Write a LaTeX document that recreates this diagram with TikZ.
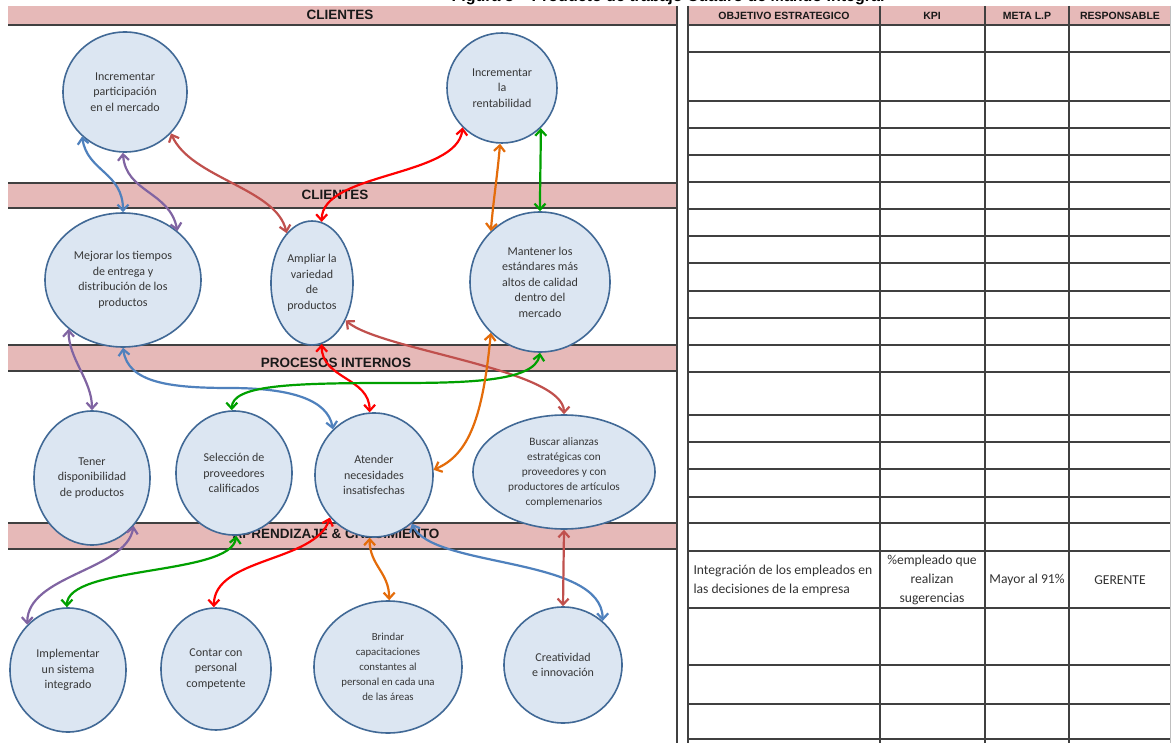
\documentclass[tikz,border=0pt]{standalone}
\usepackage{fontspec}
\setmainfont{Carlito}
\newfontfamily\headfont{Liberation Sans}
\usetikzlibrary{shapes.geometric,arrows.meta}
\definecolor{bandpink}{RGB}{230,185,184}
\definecolor{rulegray}{RGB}{64,64,64}
\definecolor{ovalfill}{RGB}{220,230,242}
\definecolor{ovaldraw}{RGB}{65,105,150}
\definecolor{ovaltext}{RGB}{55,55,55}
\definecolor{cblue}{RGB}{79,129,189}
\definecolor{cpurple}{RGB}{128,100,162}
\definecolor{cbrown}{RGB}{192,80,77}
\definecolor{cred}{RGB}{255,0,0}
\definecolor{corange}{RGB}{228,108,10}
\definecolor{cgreen}{RGB}{0,160,0}
\begin{document}
\begin{tikzpicture}[x=1pt,y=-1pt,
  oval/.style={ellipse, draw=ovaldraw, fill=ovalfill, line width=1.6pt,
    inner sep=0pt, align=center, text=ovaltext,
    font=\fontsize{12}{15.5}\selectfont},
  link/.style={line width=2.2pt,
    {Straight Barb[length=6pt,width=11pt]}-{Straight Barb[length=6pt,width=11pt]}},
  bandrule/.style={draw=rulegray, line width=1.8pt},
  bandtitle/.style={font=\headfont\bfseries\fontsize{13.5}{16}\selectfont, text=black!90},
  headtitle/.style={font=\headfont\bfseries\fontsize{10.5}{12}\selectfont, text=black!90},
  cell/.style={font=\fontsize{13.6}{19}\selectfont, text=black!80, align=center},
  tline/.style={draw=rulegray, line width=1.2pt},
  tthick/.style={draw=rulegray, line width=2pt}
]
\useasboundingbox (0,0) rectangle (1175,743);
\fill[white] (0,0) rectangle (1175,743);

% caption, cut by the page edge
\node[anchor=base, font=\headfont\bfseries\fontsize{16}{18}\selectfont, inner sep=0pt]
  (caption) at (668,2) {Figura 3 – Producto de trabajo Cuadro de Mando Integral};

% ---------- perspective bands ----------
\fill[bandpink] (8,6) rectangle (677,25);
\draw[bandrule] (8,25) -- (677,25);
\node[bandtitle] (b1) at (340,15) {CLIENTES};

\fill[bandpink] (8,183) rectangle (677,208);
\draw[bandrule] (8,183) -- (677,183) (8,208) -- (677,208);
\node[bandtitle] (b2) at (335,195) {CLIENTES};

\fill[bandpink] (8,345) rectangle (677,371);
\draw[bandrule] (8,345) -- (677,345) (8,371) -- (677,371);
\node[bandtitle] (b3) at (336,363) {PROCESOS INTERNOS};

\fill[bandpink] (8,523) rectangle (677,549);
\draw[bandrule] (8,523) -- (677,523) (8,549) -- (677,549);
\node[bandtitle] (b4) at (336,534) {APRENDIZAJE \& CRECIMIENTO};

\draw[draw=rulegray, line width=1.2pt] (677,6) -- (677,743);

% ---------- objectives ----------
\node[oval, minimum width=124, minimum height=120] (c1) at (125,92)
  {Incrementar\\participación\\en el mercado};
\node[oval, minimum width=110, minimum height=110] (c2) at (502,88)
  {Incrementar\\la\\rentabilidad};
\node[oval, minimum width=156, minimum height=134] (c3) at (123,280)
  {Mejorar los tiempos\\de entrega y\\distribución de los\\productos};
\node[oval, minimum width=82, minimum height=124] (c4) at (312,283)
  {Ampliar la\\variedad\\de\\productos};
\node[oval, minimum width=140, minimum height=140] (c5) at (540,282)
  {Mantener los\\estándares más\\altos de calidad\\dentro del\\mercado};
\node[oval, minimum width=116, minimum height=134] (c6) at (92,478)
  {Tener\\disponibilidad\\de productos};
\node[oval, minimum width=116, minimum height=124] (c7) at (234,473)
  {Selección de\\proveedores\\calificados};
\node[oval, minimum width=118, minimum height=124] (c8) at (374,475)
  {Atender\\necesidades\\insatisfechas};
\node[oval, minimum width=182, minimum height=114,
      font=\fontsize{11.3}{15}\selectfont] (c9) at (564,472)
  {Buscar alianzas\\estratégicas con\\proveedores y con\\productores de artículos\\complemenarios};
\node[oval, minimum width=116, minimum height=124] (c10) at (68,670)
  {Implementar\\un sistema\\integrado};
\node[oval, minimum width=110, minimum height=122] (c11) at (216,669)
  {Contar con\\personal\\competente};
\node[oval, minimum width=148, minimum height=132,
      font=\fontsize{10.8}{15}\selectfont] (c12) at (388,667)
  {Brindar\\capacitaciones\\constantes al\\personal en cada una\\de las áreas};
\node[oval, minimum width=118, minimum height=116] (c13) at (563,665)
  {Creatividad\\e innovación};

% ---------- cause and effect links ----------
\draw[link, cblue]   (c1.226) .. controls +(5,35) and +(0,-40) .. (c3.90);
\draw[link, cpurple] (c1.268) .. controls +(3,40) and +(-8,-40) .. (c3.42);
\draw[link, cbrown]  (c1.318) .. controls +(20,45) and +(-10,-45) .. (c4.117);
\draw[link, cred]    (c2.225) .. controls +(-5,50) and +(0,-50) .. (c4.81);
\draw[link, corange] (c2.268) .. controls +(-3,35) and +(3,-35) .. (c5.134);
\draw[link, cgreen]  (c2.314) .. controls +(0,30) and +(0,-30) .. (c5.90);
\draw[link, cpurple] (c3.222) .. controls +(0,30) and +(0,-30) .. (c6.90);
\draw[link, cblue]   (c3.270) .. controls +(5,35) and +(-60,0) .. (230,388)
                     .. controls +(60,0) and +(-5,-30) .. (c8.132);
\draw[link, cred]    (c4.279) .. controls +(0,35) and +(0,-35) .. (c8.94);
\draw[link, cbrown]  (c4.312) .. controls +(35,30) and +(0,-45) .. (c9.90);
\draw[link, cgreen]  (c5.270) .. controls +(-5,30) and +(70,0) .. (390,383)
                     .. controls +(-100,0) and +(0,-25) .. (c7.92);
\draw[link, corange] (c5.226) .. controls +(-8,85) and +(35,-15) .. (c8.5);
\draw[link, cpurple] (c6.311) .. controls +(-8,45) and +(0,-50) .. (c10.132);
\draw[link, cgreen]  (c7.272) .. controls +(-5,40) and +(0,-42) .. (c10.91);
\draw[link, cred]    (c8.224) .. controls +(-15,45) and +(0,-50) .. (c11.92);
\draw[link, corange] (c8.266) .. controls +(0,28) and +(0,-28) .. (c12.89);
\draw[link, cblue]   (c8.308) .. controls +(20,45) and +(0,-65) .. (c13.48);
\draw[link, cbrown]  (c9.270) -- (c13.90);

% ---------- indicator table ----------
\fill[bandpink] (688,6) rectangle (1170,25);
\node[headtitle] (h1) at (784,16) {OBJETIVO ESTRATEGICO};
\node[headtitle] (h2) at (932,16) {KPI};
\node[headtitle] (h3) at (1027,16) {META L.P};
\node[headtitle] (h4) at (1120,16) {RESPONSABLE};

\foreach \yy in {25,52,101,128,155,209,236,263,291,318,372,415,442,469,497,551,608,665,704,739}
  \draw[tline] (688,\yy) -- (1170,\yy);
\foreach \yy in {182,345,523}
  \draw[tthick] (688,\yy) -- (1170,\yy);
\draw[tthick] (688,6) -- (688,743);
\foreach \xx in {880,985,1069}
  \draw[tthick] (\xx,6) -- (\xx,743);
\draw[draw=black!25, line width=1pt] (1170,6) -- (1170,743);

\node[cell, align=left, anchor=west] (t1) at (690,580)
  {Integración de los empleados en\\las decisiones de la empresa};
\node[cell] (t2) at (932,580) {\%empleado que\\realizan\\sugerencias};
\node[cell] (t3) at (1027,580) {Mayor al 91\%};
\node[cell] (t4) at (1120,580) {GERENTE};
\end{tikzpicture}
\end{document}
